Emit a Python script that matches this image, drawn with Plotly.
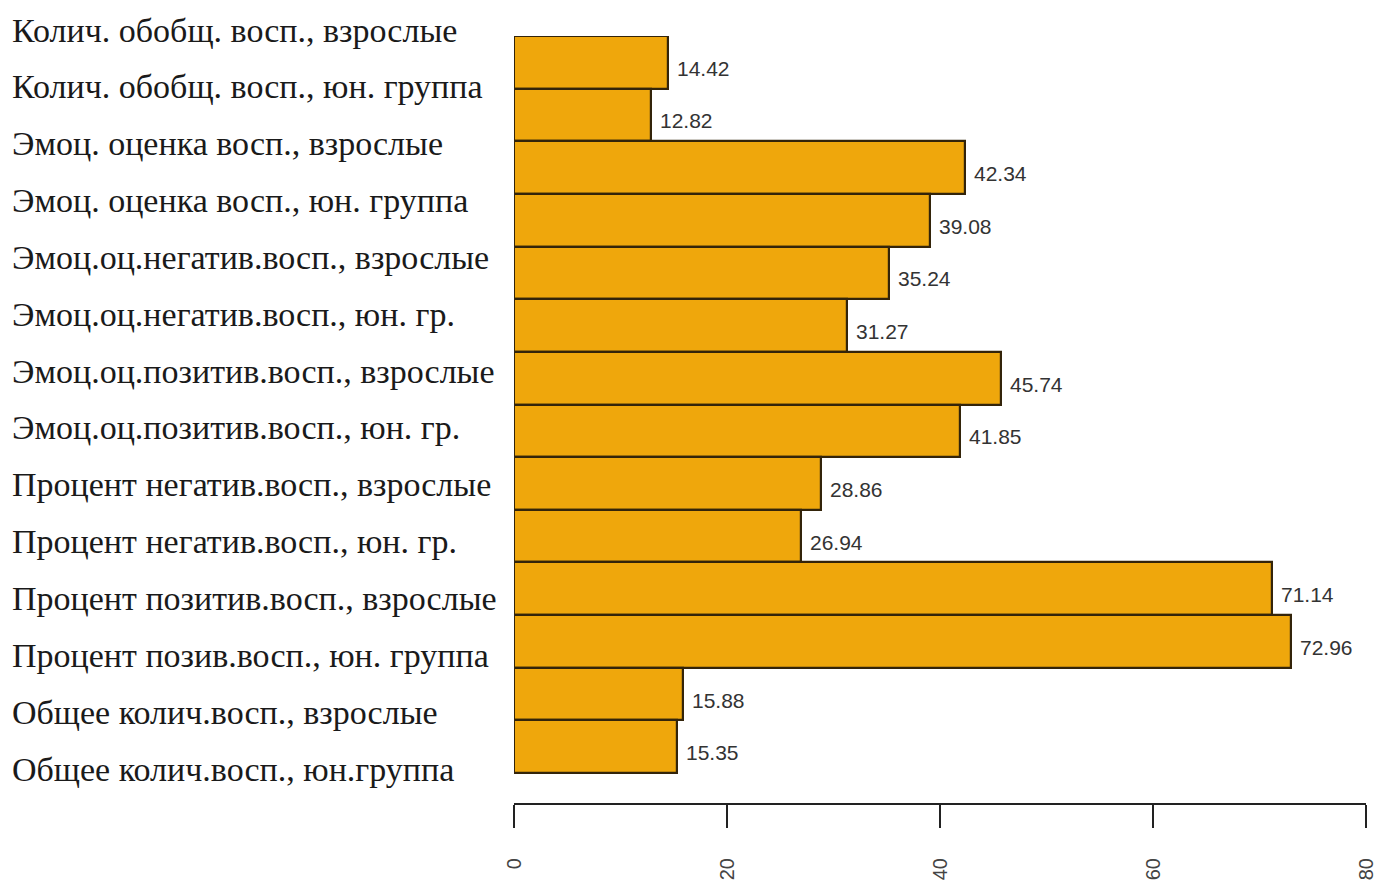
import plotly.graph_objects as go

categories = [
    "Колич. обобщ. восп., взрослые",
    "Колич. обобщ. восп., юн. группа",
    "Эмоц. оценка восп., взрослые",
    "Эмоц. оценка восп., юн. группа",
    "Эмоц.оц.негатив.восп., взрослые",
    "Эмоц.оц.негатив.восп., юн. гр.",
    "Эмоц.оц.позитив.восп., взрослые",
    "Эмоц.оц.позитив.восп., юн. гр.",
    "Процент негатив.восп., взрослые",
    "Процент негатив.восп., юн. гр.",
    "Процент позитив.восп., взрослые",
    "Процент позив.восп., юн. группа",
    "Общее колич.восп., взрослые",
    "Общее колич.восп., юн.группа",
]
values = [14.42, 12.82, 42.34, 39.08, 35.24, 31.27, 45.74, 41.85,
          28.86, 26.94, 71.14, 72.96, 15.88, 15.35]
x_ticks = [0, 20, 40, 60, 80]

OFF = 8  # page body margin
W, H = 1382 - OFF, 885 - OFF
plot_left, plot_right = 514 - OFF, 1366 - OFF
plot_top, plot_bottom = 0, 803 - OFF
bar_top = 36 - OFF
bar_bottom = 773 - OFF
lab_first, lab_last = 32 - OFF, 771 - OFF
ph = plot_bottom - plot_top

def frac(py):
    return (plot_bottom - py) / ph

n = len(categories)
bar_h = (bar_bottom - bar_top) / n
extra = (plot_bottom - bar_bottom) / bar_h

lab_step = (lab_last - lab_first) / (n - 1)
lab_r_top = -(lab_first - plot_top) / lab_step
lab_r_bot = (n - 1) + (plot_bottom - lab_last) / lab_step

fig = go.Figure()
fig.add_trace(go.Bar(
    x=values, y=categories, orientation="h",
    marker=dict(color="#EFA70C", line=dict(color="#33240a", width=2.2)),
    width=1.0, hoverinfo="skip", showlegend=False,
))
# invisible trace to build the label axis
fig.add_trace(go.Scatter(
    x=[0] * n, y=categories, xaxis="x2", yaxis="y2", mode="markers",
    marker=dict(opacity=0), hoverinfo="skip", showlegend=False,
))

annotations = []
for c, v in zip(categories, values):
    annotations.append(dict(
        x=v, y=c, xref="x", yref="y", text=f"{v:.2f}", showarrow=False,
        xanchor="left", yanchor="middle", xshift=7, yshift=-6,
        font=dict(family="Liberation Sans, Arial", size=21, color="#333333"),
    ))
for c in categories:
    annotations.append(dict(
        x=(10 - OFF - plot_left) / (plot_right - plot_left), y=c, xref="paper", yref="y2",
        text=c, showarrow=False, xanchor="left", yanchor="middle", yshift=2,
        font=dict(family="Liberation Serif, Times New Roman, serif", size=34, color="#1a1a1a"),
    ))

fig.update_layout(
    width=W, height=H,
    margin=dict(l=plot_left, r=W - plot_right, t=plot_top, b=H - plot_bottom, pad=0),
    paper_bgcolor="white", plot_bgcolor="rgba(0,0,0,0)",
    bargap=0,
    xaxis=dict(range=[0, 80], tickvals=x_ticks, ticktext=[str(t) for t in x_ticks],
               showgrid=False, zeroline=False, showline=True, linecolor="#222222",
               linewidth=2, ticks="outside", ticklen=23, tickwidth=2, tickcolor="#222222",
               tickangle=-90, ticklabelstandoff=22,
               tickfont=dict(family="Liberation Sans, Arial", size=20, color="#444444"),
               anchor="y", fixedrange=True),
    yaxis=dict(domain=[0, frac(bar_top)], range=[n - 0.5 + extra, -0.5],
               showticklabels=False, showgrid=False, zeroline=False, showline=False,
               ticks="", fixedrange=True),
    xaxis2=dict(domain=[0, 1], range=[0, 80], visible=False, anchor="y2"),
    yaxis2=dict(domain=[0, 1], range=[lab_r_bot, lab_r_top],
                visible=False, anchor="x2"),
    annotations=annotations,
)

fig.write_html("out.html")
